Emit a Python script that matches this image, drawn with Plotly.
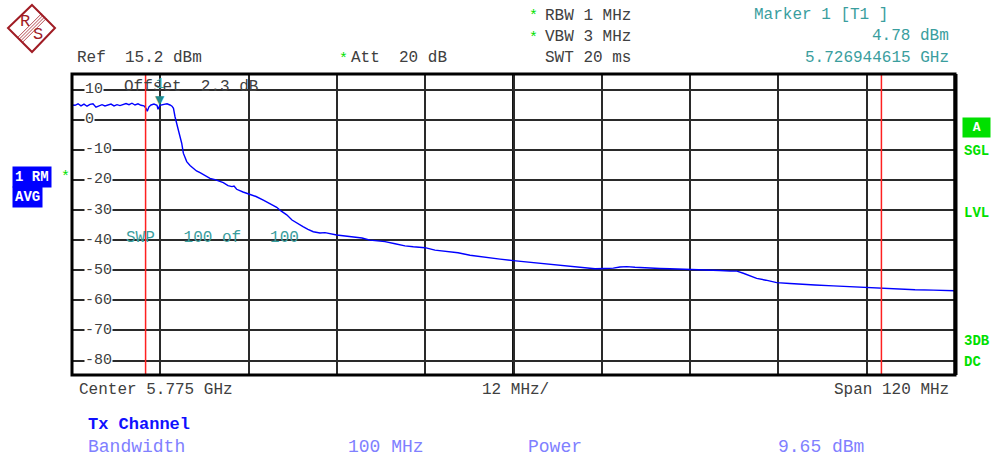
import plotly.graph_objects as go

# ---------------- data ----------------
freq_mhz = [
    5715.00, 5715.41, 5715.82, 5716.22, 5716.63, 5717.04, 5717.45, 5717.85, 5718.26,
    5718.67, 5719.08, 5719.48, 5719.89, 5720.30, 5720.71, 5721.12, 5721.52, 5721.93,
    5722.34, 5722.75, 5723.15, 5723.56, 5723.97, 5724.38, 5724.78, 5725.06, 5725.23,
    5725.46, 5725.74, 5726.14, 5726.55, 5726.69, 5726.94, 5727.50, 5727.91, 5728.32,
    5728.59, 5728.79, 5729.00, 5729.45, 5729.68, 5729.91, 5730.13, 5730.59, 5731.04,
    5731.49, 5731.92, 5732.40, 5733.07, 5733.75, 5734.43, 5735.11, 5735.56, 5736.20,
    5736.74, 5737.02, 5737.38, 5738.24, 5739.19, 5740.01, 5741.00, 5741.91, 5742.82,
    5743.40, 5744.18, 5744.90, 5745.75, 5746.39, 5747.07, 5747.79, 5748.70, 5749.38,
    5750.97, 5752.10, 5753.46, 5754.41, 5755.50, 5756.45, 5757.54, 5758.90, 5760.25,
    5761.38, 5762.97, 5764.33, 5765.92, 5767.46, 5769.09, 5770.45, 5771.81, 5773.17,
    5774.97, 5776.56, 5777.92, 5779.51, 5781.32, 5782.68, 5784.04, 5786.08, 5787.44,
    5788.56, 5789.47, 5790.38, 5791.51, 5793.10, 5794.91, 5796.27, 5797.63, 5798.99,
    5800.35, 5801.70, 5803.06, 5804.42, 5805.37, 5806.23, 5807.14, 5808.05, 5809.31,
    5810.77, 5812.57, 5813.93, 5815.97, 5818.46, 5820.73, 5823.00, 5824.81, 5826.85,
    5827.53, 5829.57, 5832.06, 5833.65, 5835.00,
]
level_dbm = [
    4.9, 4.8, 5.3, 4.6, 5.2, 4.5, 5.1, 5.3, 4.2,
    4.7, 5.0, 4.6, 4.9, 5.2, 4.6, 5.0, 4.7, 5.1,
    5.4, 5.0, 5.5, 4.9, 5.3, 4.8, 4.6, 3.8, 2.8,
    4.3, 4.9, 5.2, 4.8, 3.5, 4.78, 5.1, 5.3, 4.9,
    4.5, 3.8, 1.0, -3.4, -5.6, -7.8, -11.1, -13.9, -15.2,
    -16.1, -17.0, -17.6, -18.6, -19.5, -19.9, -20.6, -20.9, -21.9,
    -22.2, -22.0, -23.1, -24.0, -24.7, -25.5, -26.7, -27.8, -29.1,
    -30.3, -31.6, -33.3, -34.4, -35.5, -36.4, -37.2, -37.6, -37.5,
    -38.3, -38.6, -39.2, -39.3, -40.0, -40.2, -40.5, -41.2, -41.9,
    -42.2, -42.5, -43.3, -43.8, -44.2, -45.0, -45.5, -45.8, -46.3,
    -46.8, -47.2, -47.3, -47.9, -48.4, -48.7, -49.0, -49.5, -49.4,
    -49.3, -48.9, -48.8, -49.0, -49.3, -49.4, -49.5, -49.6, -49.7,
    -49.7, -49.8, -50.1, -50.3, -50.3, -51.0, -51.8, -52.7, -53.3,
    -54.1, -54.4, -54.7, -54.9, -55.2, -55.5, -55.8, -56.0, -56.1,
    -56.2, -56.5, -56.6, -56.7, -56.8,
]
marker_freq_mhz = 5726.944615
marker_level_dbm = 4.78
limit_lines_mhz = [5725.0, 5825.0]
center_mhz = 5775.0
span_mhz = 120.0
div_mhz = 12.0
ref_level_dbm = 15.2
range_db = 100.0
ytick_vals = [10, 0, -10, -20, -30, -40, -50, -60, -70, -80]

# ---------------- geometry helpers ----------------
W, H = 997, 459
L, R, T, B = 72, 42, 74, 84
PW = W - L - R
PH = H - T - B


def px(x):
    return (x - L) / PW


def py(y):
    return (H - B - y) / PH


MONO = "Liberation Mono, Courier New, monospace"
GRAY = "#404040"
TEAL = "#3a9e9e"
GREEN = "#00e000"

fig = go.Figure()
fig.add_trace(go.Scatter(x=freq_mhz, y=level_dbm, mode="lines",
                         line=dict(color="#0000ff", width=1.4),
                         hoverinfo="skip", showlegend=False))

x0 = center_mhz - span_mhz / 2
x1 = center_mhz + span_mhz / 2
fig.update_xaxes(range=[x0, x1], tick0=x0, dtick=div_mhz, showgrid=True,
                 gridcolor="#2a2a2a", gridwidth=1.5, showticklabels=False,
                 zeroline=False, showline=False, ticks="")
fig.update_yaxes(range=[ref_level_dbm - range_db, ref_level_dbm], tick0=0, dtick=10,
                 showgrid=True, gridcolor="#2a2a2a", gridwidth=1.5,
                 showticklabels=False, zeroline=False, showline=False, ticks="")

shapes = []
# thicker center line
shapes.append(dict(type="line", xref="x", yref="paper", x0=center_mhz, x1=center_mhz,
                   y0=0, y1=1, line=dict(color="#111", width=3), layer="below"))
# red channel limit lines
for f in limit_lines_mhz:
    shapes.append(dict(type="line", xref="x", yref="paper", x0=f, x1=f, y0=0, y1=1,
                       line=dict(color="#ff2020", width=1.5)))
# frame
shapes.append(dict(type="rect", xref="paper", yref="paper", x0=0, x1=1, y0=0, y1=1,
                   line=dict(color="#000", width=3)))
shapes.append(dict(type="line", xref="paper", yref="paper", x0=px(955.5), x1=px(955.5),
                   y0=0, y1=1, line=dict(color="#000", width=4)))

# R&S logo (decoration)
LOGO = "#a01c24"
diamond = [(32, 5), (55, 28), (32, 52), (8, 28)]
path = "M " + " L ".join(f"{px(a)},{py(b)}" for a, b in diamond) + " Z"
shapes.append(dict(type="path", xref="paper", yref="paper", path=path,
                   line=dict(color=LOGO, width=2)))
for k in (-2.4, -0.8, 0.8, 2.4):
    shapes.append(dict(type="line", xref="paper", yref="paper",
                       x0=px(20 + k), y0=py(40 + k), x1=px(44 + k), y1=py(16 + k),
                       line=dict(color=LOGO, width=0.8)))

ann = []


def text(x, y, s, color=GRAY, size=16, xanchor="left", bold=False, **kw):
    if bold:
        s = f"<b>{s}</b>"
    ann.append(dict(xref="paper", yref="paper", x=px(x), y=py(y), text=s,
                    showarrow=False, xanchor=xanchor, yanchor="middle",
                    font=dict(family=MONO, size=size, color=color), **kw))


# logo letters
text(25, 21, "R", color=LOGO, size=17, xanchor="center")
text(38, 35, "S", color=LOGO, size=17, xanchor="center")

# header
text(75, 58, "Ref  15.2 dBm")
text(337, 59, "*", color=GREEN, size=15)
text(349, 58, "Att  20 dB")
text(527, 17, "*", color=GREEN, size=15)
text(543, 16, "RBW 1 MHz")
text(527, 38, "*", color=GREEN, size=15)
text(543, 37, "VBW 3 MHz")
text(543, 58, "SWT 20 ms")
text(752, 15, "Marker 1 [T1 ]", color=TEAL)
text(951, 36, f"{marker_level_dbm:.2f} dBm", color=TEAL, xanchor="right")
text(951, 58, f"{marker_freq_mhz / 1000:.9f} GHz", color=TEAL, xanchor="right")

# in-plot texts
text(122, 87, "Offset  2.3 dB")
text(124, 238, "SWP   100 of   100", color=TEAL)

# y tick labels
for v in ytick_vals:
    ann.append(dict(xref="paper", yref="y", x=px(84), y=v, text=f"-{abs(v)}" if v < 0 else str(v),
                    showarrow=False, xanchor="left", yanchor="middle", bgcolor="white",
                    borderpad=0, font=dict(family=MONO, size=15, color=GRAY)))

# marker
ann.append(dict(xref="x", yref="y", x=marker_freq_mhz, y=marker_level_dbm, text="▼",
                showarrow=False, xanchor="center", yanchor="bottom", yshift=-4,
                font=dict(family="DejaVu Sans", size=12, color="#208a8a")))
ann.append(dict(xref="x", yref="y", x=marker_freq_mhz, y=marker_level_dbm, text="1",
                showarrow=False, xanchor="center", yanchor="bottom", yshift=11,
                font=dict(family=MONO, size=14, color=TEAL)))

# left labels
text(12, 177, "1 RM", color="white", size=14, bold=True, bgcolor="#0000ff", borderpad=2)
text(12, 197, "AVG", color="white", size=14, bold=True, bgcolor="#0000ff", borderpad=2)
text(59, 177, "*", color=GREEN, size=15)

# right labels
text(962, 128, "&nbsp;A&nbsp;", color="white", size=13, bold=True, bgcolor=GREEN, borderpad=2)
text(962, 151, "SGL", color=GREEN, size=14, bold=True)
text(962, 213, "LVL", color=GREEN, size=14, bold=True)
text(962, 341, "3DB", color=GREEN, size=14, bold=True)
text(962, 362, "DC", color=GREEN, size=14, bold=True)

# footer
text(77, 390, f"Center {center_mhz / 1000:.3f} GHz")
text(515, 390, f"{div_mhz:.0f} MHz/", xanchor="center")
text(951, 390, f"Span {span_mhz:.0f} MHz", xanchor="right")
text(86, 424, "Tx Channel", color="#1010ff", size=17, bold=True)
text(86, 447, "Bandwidth", color="#8080ff", size=18)
text(346, 447, "100 MHz", color="#8080ff", size=18)
text(526, 447, "Power", color="#8080ff", size=18)
text(776, 447, "9.65 dBm", color="#8080ff", size=18)

fig.update_layout(width=W, height=H, margin=dict(l=L, r=R, t=T, b=B),
                  paper_bgcolor="white", plot_bgcolor="white",
                  shapes=shapes, annotations=ann, showlegend=False)

fig.write_html("out.html", config={"displayModeBar": False},
               post_script="document.body.style.margin='0';document.body.style.overflow='hidden';")
